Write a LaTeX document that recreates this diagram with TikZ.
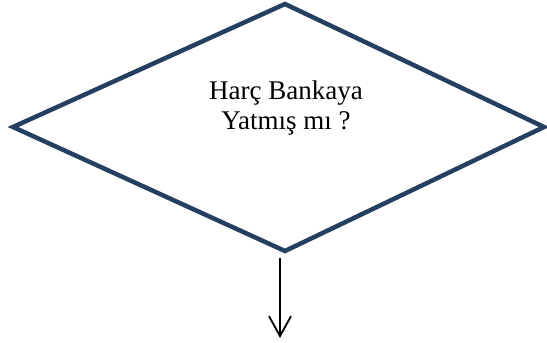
\documentclass[tikz,border=0pt]{standalone}
\usepackage{fontspec}
\setmainfont{Liberation Serif}
\usetikzlibrary{arrows.meta}
\definecolor{dnavy}{RGB}{36,63,96}
\tikzset{
  decision/.style={draw=dnavy, line width=4.5pt, line join=miter},
  flowarrow/.style={draw=black, line width=1.8pt, -{Straight Barb[length=20pt,width=22pt,line width=1.8pt]}},
  label/.style={font=\fontsize{27}{30}\selectfont, align=center, inner sep=0pt}
}
\begin{document}
\begin{tikzpicture}[x=1pt,y=-1pt]
\useasboundingbox (0,0) rectangle (547,343);
\coordinate (L) at (13,127);
\coordinate (T) at (285,4);
\coordinate (R) at (544,127);
\coordinate (B) at (285,251);
\draw[decision] (L) -- (T) -- (R) -- (B) -- cycle;
\node[label] (txt) at (286,108) {Harç Bankaya\\Yatmış mı ?};
\coordinate (a0) at (280,258);
\coordinate (a1) at (280,338);
\draw[flowarrow] (a0) -- (a1);
\end{tikzpicture}
\end{document}
